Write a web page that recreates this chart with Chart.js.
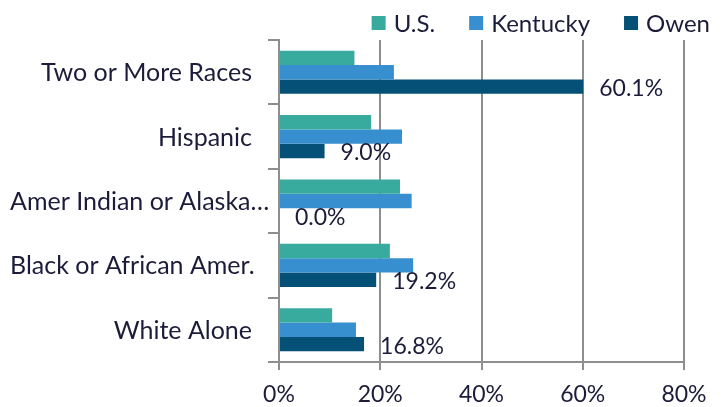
<!DOCTYPE html>
<html>
<head>
<meta charset="utf-8">
<script src="https://cdn.jsdelivr.net/npm/chart.js@4"></script>
<style>
  html, body { margin: 0; padding: 0; background: #fff; }
  #wrap { width: 723px; height: 407px; }
</style>
</head>
<body>
<div id="wrap"><canvas id="myChart"></canvas></div>
<script>
const categories = [
    'Two or More Races',
    'Hispanic',
    'Amer Indian or Alaska…',
    'Black or African Amer.',
    'White Alone'
];
const usValues = [14.9, 18.2, 23.9, 21.9, 10.5];
const kentuckyValues = [22.7, 24.3, 26.2, 26.5, 15.2];
const owenValues = [60.1, 9.0, 0.0, 19.2, 16.8];
const xTicks = [0, 20, 40, 60, 80];

const textColor = '#1c1c3a';
const gridColor = '#8e8e8e';
const FONT = 'Lato, "Noto Sans", sans-serif';

// labels only on the Owen bars, to the right of the bar end
const owenLabels = {
    id: 'owenLabels',
    afterDatasetsDraw(chart) {
        const ctx = chart.ctx;
        const meta = chart.getDatasetMeta(2);
        ctx.save();
        ctx.font = '23px ' + FONT;
        ctx.fillStyle = textColor;
        ctx.textBaseline = 'middle';
        ctx.textAlign = 'left';
        meta.data.forEach((bar, i) => {
            ctx.fillText(owenValues[i].toFixed(1) + '%', bar.x + 16, bar.y + 2);
        });
        ctx.restore();
    }
};

// category names: right aligned, but a long one is pushed right so it stays on the canvas
const categoryLabels = {
    id: 'categoryLabels',
    afterDraw(chart) {
        const ctx = chart.ctx;
        const y = chart.scales.y;
        ctx.save();
        ctx.font = '25px ' + FONT;
        ctx.fillStyle = textColor;
        ctx.textBaseline = 'middle';
        ctx.textAlign = 'left';
        categories.forEach((name, i) => {
            const w = ctx.measureText(name).width;
            const right = Math.max(y.right - 27, 10 + w);
            ctx.fillText(name, right - w, y.getPixelForTick(i) + 1);
        });
        ctx.restore();
    }
};

// legend drawn right-aligned above the plot
const topLegend = {
    id: 'topLegend',
    afterDraw(chart) {
        const ctx = chart.ctx;
        ctx.save();
        ctx.font = '24px ' + FONT;
        ctx.textBaseline = 'middle';
        const box = 14, gapText = 8, gapItem = 34;
        const sets = chart.data.datasets;
        let widths = sets.map(d => box + gapText + ctx.measureText(d.label).width);
        let total = widths.reduce((a, b) => a + b, 0) + gapItem * (sets.length - 1);
        let x = chart.width - 13 - total;
        const y = 23;
        sets.forEach((d, i) => {
            ctx.fillStyle = d.backgroundColor;
            ctx.fillRect(x, y - box / 2, box, box);
            ctx.fillStyle = textColor;
            ctx.fillText(d.label, x + box + gapText, y + 1);
            x += widths[i] + gapItem;
        });
        ctx.restore();
    }
};

const data = {
    labels: categories,
    datasets: [
        {
            label: 'U.S.',
            data: usValues,
            backgroundColor: '#38aa9e'
        },
        {
            label: 'Kentucky',
            data: kentuckyValues,
            backgroundColor: '#378fd0'
        },
        {
            label: 'Owen',
            data: owenValues,
            backgroundColor: '#055077'
        }
    ]
};

const config = {
    type: 'bar',
    data: data,
    options: {
        indexAxis: 'y',
        responsive: true,
        maintainAspectRatio: false,
        animation: false,
        layout: {
            padding: { top: 40, right: 0, bottom: 0, left: 0 }
        },
        datasets: {
            bar: {
                categoryPercentage: 0.67,
                barPercentage: 1.0,
                borderWidth: 0
            }
        },
        scales: {
            x: {
                min: 0,
                max: 80,
                afterFit(scale) {
                    scale.paddingRight = 39;
                    scale.height = 45;
                },
                afterBuildTicks(scale) {
                    scale.ticks = xTicks.map(v => ({ value: v }));
                },
                ticks: {
                    callback: v => v + '%',
                    color: textColor,
                    font: { size: 23, family: FONT },
                    padding: 11,
                    maxRotation: 0
                },
                grid: {
                    color: gridColor,
                    lineWidth: 2,
                    tickLength: 8
                },
                border: { display: true, color: gridColor, width: 2 }
            },
            y: {
                afterFit(scale) {
                    scale.width = 279;
                },
                ticks: { display: false },
                grid: {
                    offset: true,
                    drawOnChartArea: false,
                    color: gridColor,
                    lineWidth: 2,
                    tickLength: 11
                },
                border: { display: true, color: gridColor, width: 2 }
            }
        },
        plugins: {
            legend: { display: false },
            tooltip: { enabled: false }
        }
    },
    plugins: [owenLabels, categoryLabels, topLegend]
};

const myChart = new Chart(
    document.getElementById('myChart'),
    config
);
</script>
</body>
</html>
